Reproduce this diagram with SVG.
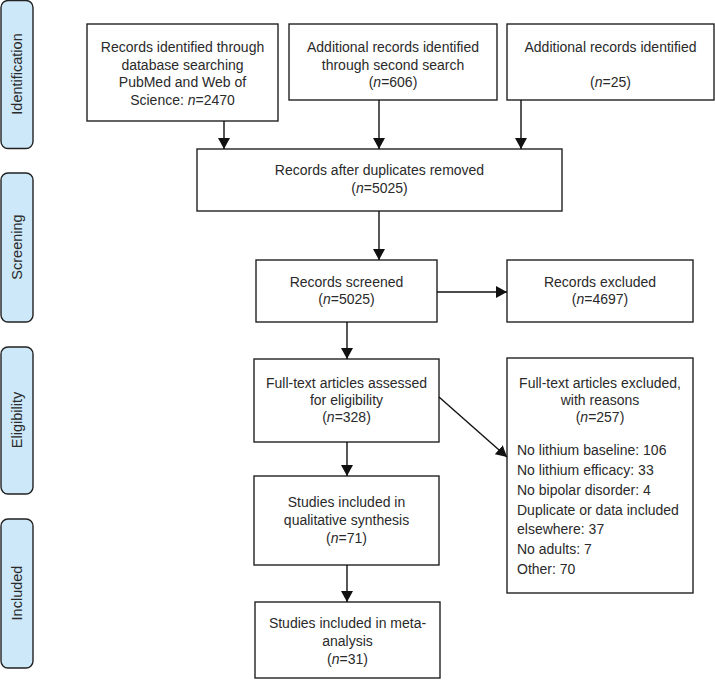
<svg xmlns="http://www.w3.org/2000/svg" width="715" height="680" viewBox="0 0 715 680">
<style>
.box{fill:#fff;stroke:#222;stroke-width:1.4}
.side{fill:#cde8f8;stroke:#222;stroke-width:1.4}
text{font-family:"Liberation Sans",Arial,sans-serif;font-size:14px;fill:#2a2a2a}
.lab{font-size:14.5px}
.c{text-anchor:middle}
.i{font-style:italic}
.con{stroke:#111;stroke-width:1.4;fill:none}
</style>
<defs>
<marker id="ah" viewBox="0 0 11 12" refX="11" refY="6" markerWidth="11" markerHeight="12" markerUnits="userSpaceOnUse" orient="auto">
<path d="M0,0 L11,6 L0,12 Z" fill="#111"/>
</marker>
</defs>
<g id="stage-identification"><rect class="side" x="1" y="0.5" width="32" height="148" rx="7"/><text class="c lab" transform="translate(22,74) rotate(-90)">Identification</text></g>
<g id="stage-screening"><rect class="side" x="1" y="173" width="32" height="149" rx="7"/><text class="c lab" transform="translate(22,247) rotate(-90)">Screening</text></g>
<g id="stage-eligibility"><rect class="side" x="1" y="347" width="32" height="147" rx="7"/><text class="c lab" transform="translate(22,420) rotate(-90)">Eligibility</text></g>
<g id="stage-included"><rect class="side" x="1" y="519" width="32" height="149" rx="7"/><text class="c lab" transform="translate(22,593) rotate(-90)">Included</text></g>

<g id="n1"><rect class="box" x="87" y="24" width="191" height="97"/>
<text class="c" x="182.5" y="52">Records identified through</text>
<text class="c" x="182.5" y="69.5">database searching</text>
<text class="c" x="182.5" y="87">PubMed and Web of</text>
<text class="c" x="182.5" y="104.5">Science: <tspan class="i">n</tspan>=2470</text></g>
<g id="n2"><rect class="box" x="289" y="24" width="208" height="76"/>
<text class="c" x="393" y="52">Additional records identified</text>
<text class="c" x="393" y="69.5">through second search</text>
<text class="c" x="393" y="87">(<tspan class="i">n</tspan>=606)</text></g>
<g id="n3"><rect class="box" x="507" y="24" width="207" height="76"/>
<text class="c" x="610.5" y="52">Additional records identified</text>
<text class="c" x="610.5" y="87">(<tspan class="i">n</tspan>=25)</text></g>
<g id="n4"><rect class="box" x="197" y="149" width="365" height="62"/>
<text class="c" x="379.5" y="175">Records after duplicates removed</text>
<text class="c" x="379.5" y="193">(<tspan class="i">n</tspan>=5025)</text></g>
<g id="n5"><rect class="box" x="256" y="260" width="181" height="62"/>
<text class="c" x="346.5" y="287">Records screened</text>
<text class="c" x="346.5" y="304">(<tspan class="i">n</tspan>=5025)</text></g>
<g id="n6"><rect class="box" x="507" y="260" width="186" height="62"/>
<text class="c" x="600" y="287">Records excluded</text>
<text class="c" x="600" y="304">(<tspan class="i">n</tspan>=4697)</text></g>
<g id="n7"><rect class="box" x="254" y="359" width="185" height="83"/>
<text class="c" x="346.5" y="388">Full-text articles assessed</text>
<text class="c" x="346.5" y="405">for eligibility</text>
<text class="c" x="346.5" y="422">(<tspan class="i">n</tspan>=328)</text></g>
<g id="n8"><rect class="box" x="507" y="358" width="186" height="235"/>
<text class="c" x="600" y="388">Full-text articles excluded,</text>
<text class="c" x="600" y="405">with reasons</text>
<text class="c" x="600" y="422">(<tspan class="i">n</tspan>=257)</text>
<text x="517" y="455">No lithium baseline: 106</text>
<text x="517" y="475">No lithium efficacy: 33</text>
<text x="517" y="494.5">No bipolar disorder: 4</text>
<text x="517" y="514.5">Duplicate or data included</text>
<text x="517" y="534">elsewhere: 37</text>
<text x="517" y="554">No adults: 7</text>
<text x="517" y="573.5">Other: 70</text></g>
<g id="n9"><rect class="box" x="254" y="476" width="185" height="89"/>
<text class="c" x="346.5" y="507">Studies included in</text>
<text class="c" x="346.5" y="525">qualitative synthesis</text>
<text class="c" x="346.5" y="543">(<tspan class="i">n</tspan>=71)</text></g>
<g id="n10"><rect class="box" x="255" y="602" width="185" height="76"/>
<text class="c" x="347.5" y="628">Studies included in meta-</text>
<text class="c" x="347.5" y="646">analysis</text>
<text class="c" x="347.5" y="664">(<tspan class="i">n</tspan>=31)</text></g>

<g id="connectors">
<line class="con" x1="224" y1="121" x2="224" y2="149" marker-end="url(#ah)"/>
<line class="con" x1="379" y1="100" x2="379" y2="149" marker-end="url(#ah)"/>
<line class="con" x1="521" y1="100" x2="521" y2="149" marker-end="url(#ah)"/>
<line class="con" x1="379" y1="211" x2="379" y2="260" marker-end="url(#ah)"/>
<line class="con" x1="437" y1="292" x2="507" y2="292" marker-end="url(#ah)"/>
<line class="con" x1="347" y1="322" x2="347" y2="359" marker-end="url(#ah)"/>
<line class="con" x1="439" y1="397" x2="507" y2="457" marker-end="url(#ah)"/>
<line class="con" x1="347" y1="442" x2="347" y2="476" marker-end="url(#ah)"/>
<line class="con" x1="347" y1="565" x2="347" y2="602" marker-end="url(#ah)"/>
</g>
</svg>
